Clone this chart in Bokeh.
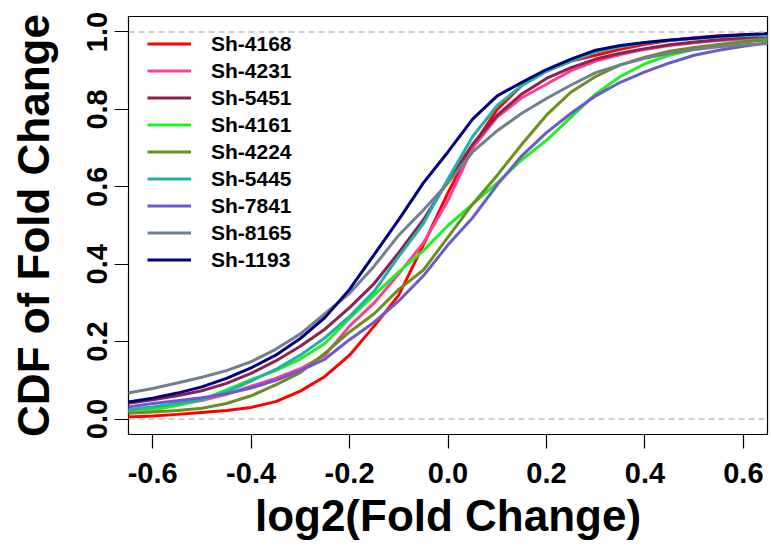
from bokeh.plotting import figure
from bokeh.models import Legend, LegendItem, Span, FixedTicker, Range1d
from bokeh.embed import file_html
from bokeh.resources import INLINE

# ---- data ----
x_vals = [-0.65, -0.6, -0.55, -0.5, -0.45, -0.4, -0.35, -0.3, -0.25, -0.2,
          -0.15, -0.1, -0.05, 0.0, 0.05, 0.1, 0.15, 0.2, 0.25, 0.3,
          0.35, 0.4, 0.45, 0.5, 0.55, 0.6, 0.65]

series_names = ["Sh-4168", "Sh-4231", "Sh-5451", "Sh-4161", "Sh-4224",
                "Sh-5445", "Sh-7841", "Sh-8165", "Sh-1193"]

sh_4168 = [0.005, 0.008, 0.012, 0.017, 0.022, 0.030, 0.045, 0.072, 0.110, 0.165,
           0.240, 0.320, 0.450, 0.585, 0.705, 0.800, 0.862, 0.900, 0.925, 0.940,
           0.955, 0.968, 0.978, 0.985, 0.990, 0.993, 0.995]
sh_4231 = [0.023, 0.030, 0.038, 0.048, 0.064, 0.085, 0.105, 0.130, 0.165, 0.240,
           0.300, 0.375, 0.455, 0.565, 0.700, 0.780, 0.830, 0.865, 0.900, 0.925,
           0.942, 0.955, 0.965, 0.972, 0.978, 0.982, 0.985]
sh_5451 = [0.041, 0.050, 0.060, 0.073, 0.092, 0.118, 0.150, 0.188, 0.232, 0.288,
           0.350, 0.430, 0.515, 0.615, 0.710, 0.785, 0.840, 0.880, 0.908, 0.930,
           0.945, 0.957, 0.967, 0.974, 0.980, 0.985, 0.990]
sh_4161 = [0.018, 0.024, 0.035, 0.050, 0.075, 0.102, 0.125, 0.155, 0.195, 0.260,
           0.320, 0.380, 0.435, 0.500, 0.555, 0.610, 0.670, 0.720, 0.780, 0.840,
           0.885, 0.918, 0.940, 0.955, 0.967, 0.975, 0.980]
sh_4224 = [0.015, 0.018, 0.022, 0.028, 0.040, 0.060, 0.088, 0.120, 0.170, 0.225,
           0.272, 0.335, 0.385, 0.470, 0.555, 0.630, 0.710, 0.785, 0.845, 0.885,
           0.915, 0.935, 0.950, 0.960, 0.968, 0.975, 0.980]
sh_5445 = [0.023, 0.031, 0.040, 0.050, 0.070, 0.098, 0.128, 0.165, 0.210, 0.265,
           0.330, 0.420, 0.505, 0.620, 0.730, 0.810, 0.862, 0.898, 0.925, 0.948,
           0.962, 0.972, 0.978, 0.983, 0.987, 0.990, 0.991]
sh_7841 = [0.031, 0.040, 0.047, 0.055, 0.065, 0.080, 0.100, 0.125, 0.155, 0.205,
           0.250, 0.305, 0.370, 0.450, 0.520, 0.605, 0.680, 0.740, 0.790, 0.835,
           0.870, 0.897, 0.920, 0.940, 0.953, 0.963, 0.972]
sh_8165 = [0.067, 0.079, 0.093, 0.108, 0.125, 0.148, 0.180, 0.220, 0.272, 0.325,
           0.395, 0.475, 0.540, 0.610, 0.690, 0.745, 0.790, 0.828, 0.863, 0.895,
           0.915, 0.932, 0.945, 0.955, 0.962, 0.967, 0.970]
sh_1193 = [0.044, 0.054, 0.067, 0.083, 0.105, 0.132, 0.165, 0.208, 0.262, 0.335,
           0.425, 0.515, 0.610, 0.690, 0.775, 0.835, 0.870, 0.903, 0.930, 0.953,
           0.965, 0.973, 0.979, 0.984, 0.989, 0.993, 0.996]

series_values = [sh_4168, sh_4231, sh_5451, sh_4161, sh_4224,
                 sh_5445, sh_7841, sh_8165, sh_1193]
series_colors = ["#FF0000", "#FF3E96", "#8B2252", "#22EE22", "#6B8E23",
                 "#20B2AA", "#6A5ACD", "#708090", "#000080"]

x_ticks = [-0.6, -0.4, -0.2, 0.0, 0.2, 0.4, 0.6]
x_tick_labels = ["-0.6", "-0.4", "-0.2", "0.0", "0.2", "0.4", "0.6"]
y_ticks = [0.0, 0.2, 0.4, 0.6, 0.8, 1.0]
y_tick_labels = ["0.0", "0.2", "0.4", "0.6", "0.8", "1.0"]
ref_lines = [0.0, 1.0]

FONT = "Liberation Sans"

p = figure(width=771, height=550, output_backend="svg", toolbar_location=None,
           x_range=Range1d(-0.649, 0.649), y_range=Range1d(-0.04, 1.04),
           min_border_left=128, min_border_right=4, min_border_top=16,
           min_border_bottom=116)
p.background_fill_color = "white"
p.border_fill_color = "white"
p.outline_line_color = "black"
p.outline_line_width = 1.2
p.xgrid.visible = False
p.ygrid.visible = False

for h in ref_lines:
    p.add_layout(Span(location=h, dimension="width", line_color="#C0C0C0",
                      line_width=1.5, line_dash="6 4"))

items = []
for name, vals, col in zip(series_names, series_values, series_colors):
    r = p.line(x_vals, vals, line_color=col, line_width=3)
    items.append(LegendItem(label=name, renderers=[r]))

legend = Legend(items=items, location=(19, 161), border_line_color=None,
                background_fill_alpha=0, padding=0, margin=0, spacing=0,
                glyph_width=44, glyph_height=27, label_height=27,
                label_standoff=20, label_text_font=FONT,
                label_text_color="black",
                label_text_font_style="bold", label_text_font_size="21px")
p.add_layout(legend)

for ax in (p.xaxis[0], p.yaxis[0]):
    ax.axis_line_color = None
    ax.major_tick_out = 14
    ax.major_tick_in = 0
    ax.minor_tick_line_color = None
    ax.major_tick_line_color = "black"
    ax.major_tick_line_width = 1.2
    ax.major_label_text_font = FONT
    ax.major_label_text_font_style = "bold"
    ax.major_label_text_font_size = "29px"
    ax.major_label_text_color = "black"
    ax.axis_label_text_font = FONT
    ax.axis_label_text_font_style = "bold"
    ax.axis_label_text_font_size = "44px"
    ax.axis_label_text_color = "black"

p.xaxis.ticker = FixedTicker(ticks=x_ticks)
p.xaxis.major_label_overrides = dict(zip(x_ticks, x_tick_labels))
p.yaxis.ticker = FixedTicker(ticks=y_ticks)
p.yaxis.major_label_overrides = dict(zip(y_ticks, y_tick_labels))
p.yaxis.major_label_orientation = "vertical"
p.xaxis.axis_label = "log2(Fold Change)"
p.yaxis.axis_label = "CDF of Fold Change"
p.xaxis.major_label_standoff = 14
p.yaxis.major_label_standoff = 7
p.xaxis.axis_label_standoff = 5
p.yaxis.axis_label_standoff = 27

open("out.html", "w").write(file_html(p, INLINE))
